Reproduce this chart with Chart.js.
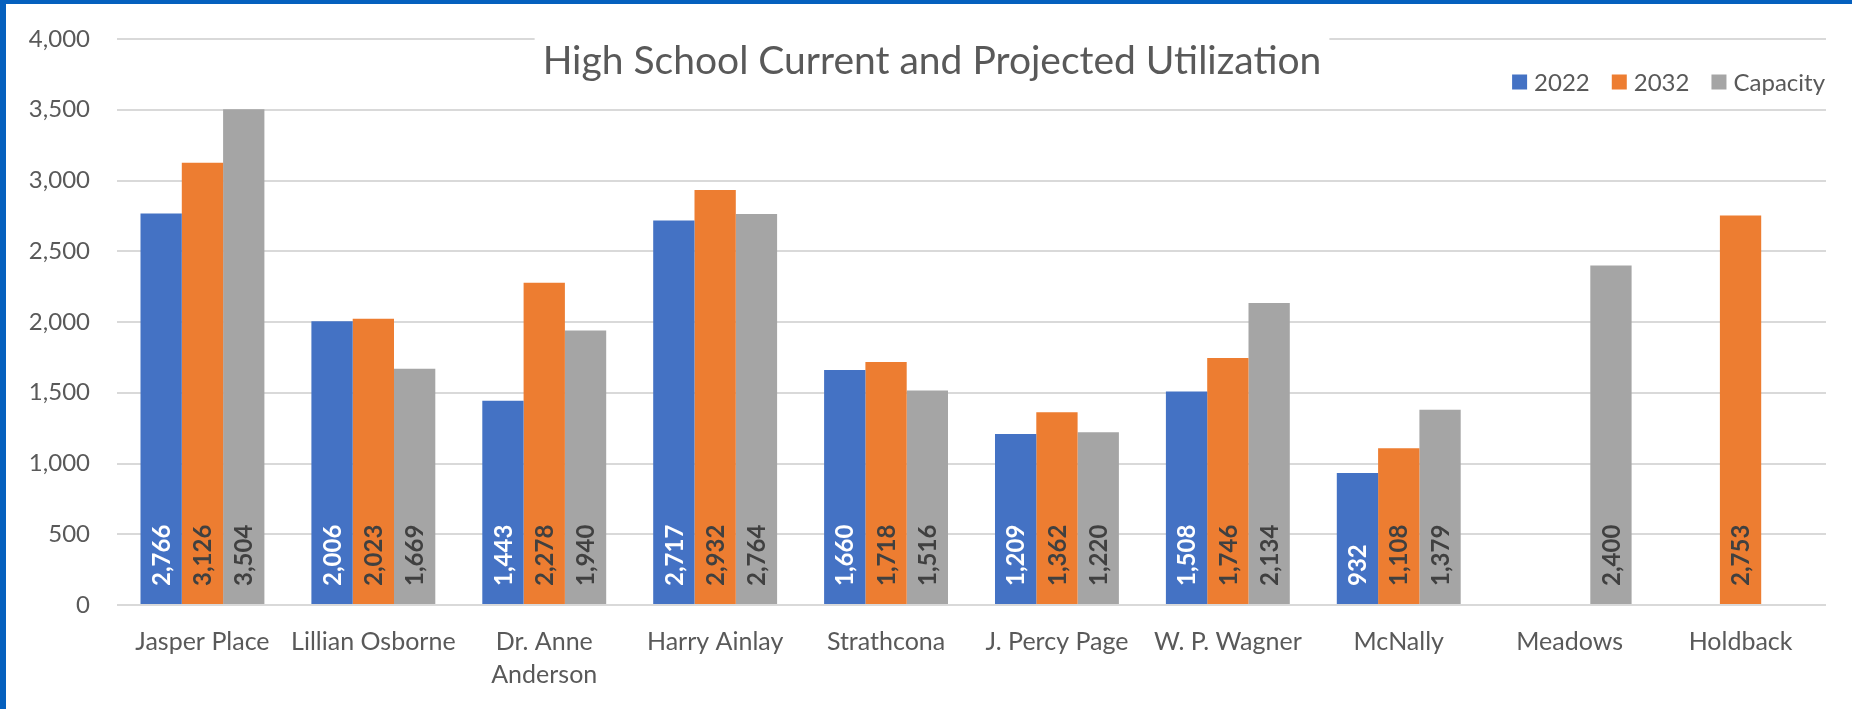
<!DOCTYPE html>
<html>
<head>
<meta charset="utf-8">
<title>High School Current and Projected Utilization</title>
<script src="https://cdn.jsdelivr.net/npm/chart.js@4.4.1/dist/chart.umd.min.js"></script>
<style>
  html, body { margin: 0; padding: 0; }
  body { width: 1852px; height: 709px; overflow: hidden; position: relative; background: #0560be; }
  #marco { position: absolute; left: 6px; top: 4px; width: 1846px; height: 705px; background: #fff; }
</style>
</head>
<body>
<div id="marco"><canvas id="graficoEscuelas"></canvas></div>
<script>
// datos
const titulo = 'High School Current and Projected Utilization';
const escuelas = ['Jasper Place', 'Lillian Osborne', ['Dr. Anne', 'Anderson'], 'Harry Ainlay', 'Strathcona',
  'J. Percy Page', 'W. P. Wagner', 'McNally', 'Meadows', 'Holdback'];
const series = ['2022', '2032', 'Capacity'];
const valores2022 = [2766, 2006, 1443, 2717, 1660, 1209, 1508, 932, null, null];
const valores2032 = [3126, 2023, 2278, 2932, 1718, 1362, 1746, 1108, null, 2753];
const capacidad = [3504, 1669, 1940, 2764, 1516, 1220, 2134, 1379, 2400, null];

const colores = ['#4472c4', '#ed7d31', '#a5a5a5'];
const coloresTexto = ['#ffffff', '#404040', '#404040'];
const gris = '#595959';
const fuente = 'Lato, "Open Sans", sans-serif';

// numeros girados dentro de cada barra, desde la base
const etiquetasBarras = {
  id: 'etiquetasBarras',
  afterDatasetsDraw(chart) {
    const ctx = chart.ctx;
    ctx.save();
    ctx.font = 'bold 24px ' + fuente;
    ctx.textAlign = 'left';
    ctx.textBaseline = 'middle';
    chart.data.datasets.forEach((ds, i) => {
      const meta = chart.getDatasetMeta(i);
      meta.data.forEach((bar, j) => {
        const v = ds.data[j];
        if (v == null) return;
        ctx.save();
        ctx.translate(bar.x, bar.base - 18);
        ctx.rotate(-Math.PI / 2);
        ctx.fillStyle = coloresTexto[i];
        ctx.fillText(v.toLocaleString('en-US'), 0, 1);
        ctx.restore();
      });
    });
    ctx.restore();
  }
};

// titulo y leyenda van encima del area del grafico, como en Excel
const tituloYLeyenda = {
  id: 'tituloYLeyenda',
  afterDraw(chart) {
    const ctx = chart.ctx;
    const area = chart.chartArea;
    ctx.save();

    ctx.font = '39px ' + fuente;
    const w = ctx.measureText(titulo).width;
    const cx = chart.width / 2 + 3;
    ctx.fillStyle = '#fff';
    ctx.fillRect(cx - w / 2 - 8, area.top - 16, w + 16, 50);
    ctx.fillStyle = gris;
    ctx.textAlign = 'center';
    ctx.textBaseline = 'middle';
    ctx.fillText(titulo, cx, 57);

    ctx.font = '24px ' + fuente;
    ctx.textAlign = 'left';
    const caja = 15, sep = 7, entre = 22;
    const anchos = series.map(s => caja + sep + ctx.measureText(s).width);
    const total = anchos.reduce((a, b) => a + b, 0) + entre * (series.length - 1);
    let x = area.right - 1 - total;
    const y = 78;
    series.forEach((s, i) => {
      ctx.fillStyle = colores[i];
      ctx.fillRect(x, y - caja / 2, caja, caja);
      ctx.fillStyle = gris;
      ctx.fillText(s, x + caja + sep, y + 1);
      x += anchos[i] + entre;
    });
    ctx.restore();
  }
};

function generarGrafico() {
  const ctx = document.getElementById('graficoEscuelas').getContext('2d');

  new Chart(ctx, {
    type: 'bar',
    data: {
      labels: escuelas,
      datasets: [
        { label: series[0], data: valores2022, backgroundColor: colores[0] },
        { label: series[1], data: valores2032, backgroundColor: colores[1] },
        { label: series[2], data: capacidad, backgroundColor: colores[2] }
      ]
    },
    options: {
      responsive: true,
      maintainAspectRatio: false,
      animation: false,
      datasets: { bar: { categoryPercentage: 0.725, barPercentage: 1 } },
      layout: { padding: { top: 35, right: 26, bottom: 0, left: 0 } },
      plugins: {
        legend: { display: false },
        title: { display: false },
        tooltip: { enabled: false }
      },
      scales: {
        x: {
          grid: { display: false },
          border: { display: false },
          ticks: {
            color: gris,
            font: { family: fuente, size: 25, lineHeight: 1.3 },
            padding: 13,
            maxRotation: 0,
            autoSkip: false
          },
          afterFit(scale) { scale.height = 104; }
        },
        y: {
          min: 0,
          max: 4000,
          ticks: {
            stepSize: 500,
            color: gris,
            font: { family: fuente, size: 24 },
            padding: 27
          },
          grid: { color: '#d9d9d9', lineWidth: 2, drawTicks: false },
          border: { display: false },
          afterFit(scale) {
            scale.width = 111;
            scale.paddingTop = 10;
            scale.paddingBottom = 10;
          }
        }
      }
    },
    plugins: [etiquetasBarras, tituloYLeyenda]
  });
}

document.addEventListener('DOMContentLoaded', generarGrafico);
</script>
</body>
</html>
